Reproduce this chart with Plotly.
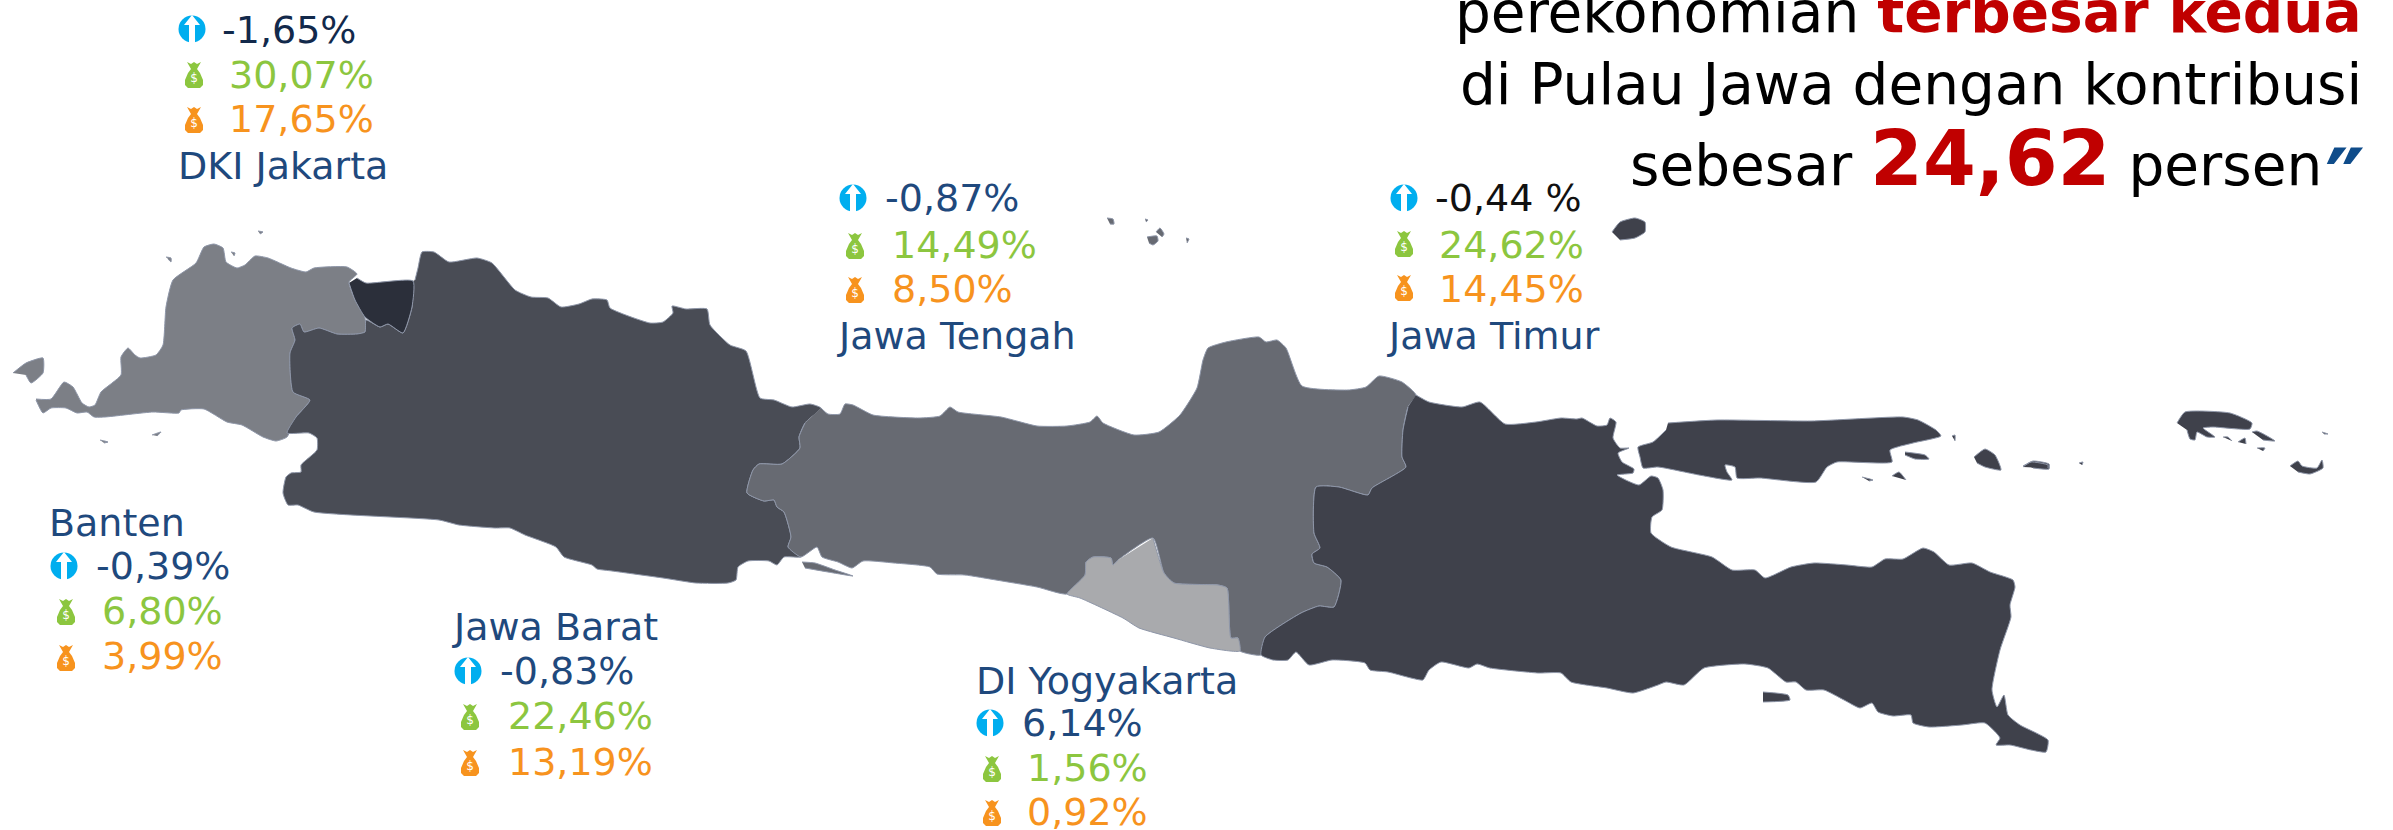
import plotly.graph_objects as go

# Outlines (image pixels); None separates islands
banten = [(36,399),(51,399),(64,382),(73,387),(82,403),(89,407),(95,405),(101,392),(121,375),(121,357),(128,348),(135,355),(140,358),(156,355),(163,345),(166,307),(173,280),(196,263),(204,247),(214,244),(223,248),(226,262),(237,268),(245,265),(255,256),(268,258),(291,268),(306,272),(314,268),(347,267),(357,274),(349,282),(355,300),(365,318),(365,332),(357,334),(337,334),(319,328),(304,332),(300,324),(292,328),(295,340),(290,353),(293,392),(310,400),(296,417),(287,437),(276,441),(263,437),(242,425),(227,422),(204,409),(181,410),(179,413),(153,412),(105,417),(94,417),(87,412),(77,413),(66,408),(51,408),(43,413),(36,400),None,
          (13,373),(26,363),(43,358),(43,373),(31,383),(26,375),None,
          (166,257),(171,258),(171,262),(168,259),None,(231,252),(235,253),(234,256),None,(258,231),(263,232),(260,234),None,
          (100,440),(108,442),(104,443),None,(152,435),(161,432),(157,436)]
dki = [(357,278),(366,283),(413,281),(412,307),(403,333),(388,324),(380,327),(365,317),(355,300),(349,283)]
jabar = [(415,280),(418,268),(422,252),(434,252),(449,262),(477,258),(492,263),(515,290),(531,297),(548,298),(561,307),(579,304),(592,299),(607,300),(610,308),(650,323),(663,322),(673,313),(672,306),(686,309),(707,309),(710,325),(730,345),(746,351),(760,398),(774,400),(792,407),(810,404),(821,408),(805,423),(799,437),(800,448),(782,464),(759,464),(753,470),(747,493),(764,501),(774,500),(777,507),(784,512),(791,537),(788,547),(801,557),(784,557),(777,565),(769,561),(748,561),(738,567),(736,580),(728,583),(696,583),(663,578),(612,571),(597,569),(592,565),(564,557),(556,547),(525,535),(510,528),(495,528),(459,525),(439,520),(314,512),(298,505),(288,505),(283,493),(286,477),(291,473),(301,472),(301,465),(317,450),(317,438),(309,433),(287,433),(296,417),(310,400),(293,392),(290,353),(295,340),(292,328),(300,324),(304,332),(319,328),(337,334),(357,334),(365,332),(366,320),(380,327),(388,324),(403,333),(412,307),(413,281)]
jateng = [(821,408),(828,414),(840,414),(845,404),(853,405),(873,415),(919,418),(940,416),(950,407),(958,412),(1001,417),(1037,426),(1067,426),(1090,422),(1097,416),(1103,423),(1134,435),(1159,432),(1180,415),(1197,388),(1203,360),(1208,348),(1226,342),(1259,337),(1266,342),(1277,340),(1286,348),(1302,386),(1348,390),(1366,387),(1379,376),(1402,382),(1416,395),(1408,407),(1403,430),(1402,457),(1406,467),(1372,488),(1368,495),(1339,487),(1316,487),(1314,533),(1320,548),(1312,554),(1314,563),(1327,567),(1341,580),(1334,607),(1319,606),(1301,613),(1265,637),(1261,655),(1240,651),(1238,638),(1231,638),(1227,588),(1218,585),(1174,583),(1164,573),(1153,538),(1118,560),(1113,565),(1111,558),(1093,557),(1086,562),(1085,575),(1067,594),(1037,587),(996,580),(965,575),(937,574),(930,567),(894,563),(863,561),(852,568),(838,562),(822,557),(817,547),(801,557),(788,547),(791,537),(784,512),(777,507),(774,500),(764,501),(747,493),(753,470),(759,464),(782,464),(800,448),(799,437),(805,423),None,
          (802,562),(815,563),(835,570),(853,576),(828,572),(805,568),None,
          (1107,218),(1113,219),(1114,224),(1110,224),None,(1145,219),(1148,220),(1146,222),None,
          (1147,237),(1157,236),(1158,241),(1153,245),(1149,243),None,(1156,232),(1160,228),(1164,234),(1162,237),None,(1186,238),(1189,239),(1187,243)]
diy = [(1153,538),(1164,573),(1174,583),(1218,585),(1227,588),(1231,638),(1238,638),(1240,651),(1210,648),(1174,638),(1139,628),(1123,618),(1080,598),(1067,594),(1085,575),(1086,562),(1093,557),(1111,558),(1113,565),(1118,560)]
jatim = [(1416,395),(1429,402),(1462,407),(1480,402),(1505,424),(1536,422),(1561,418),(1577,419),(1582,418),(1597,426),(1607,425),(1610,418),(1616,422),(1613,438),(1620,448),(1629,448),(1618,453),(1622,462),(1634,469),(1633,473),(1617,475),(1639,485),(1651,476),(1658,478),(1663,490),(1662,510),(1652,517),(1651,533),(1671,547),(1712,557),(1732,570),(1755,570),(1765,578),(1791,567),(1814,563),(1847,565),(1872,567),(1885,559),(1903,559),(1923,548),(1934,552),(1949,565),(1972,563),(1990,572),(2013,580),(2015,587),(2010,605),(2011,617),(2000,650),(1992,690),(1997,707),(2004,695),(2008,715),(2020,725),(2048,740),(2046,752),(2031,750),(2010,745),(1996,745),(2000,738),(1985,723),(1962,725),(1929,727),(1913,723),(1911,715),(1893,716),(1878,712),(1872,703),(1860,708),(1844,700),(1824,690),(1806,690),(1796,682),(1786,682),(1768,668),(1745,664),(1704,668),(1684,685),(1666,682),(1658,685),(1633,693),(1607,688),(1571,682),(1561,673),(1538,673),(1490,668),(1477,664),(1469,668),(1441,662),(1429,670),(1423,680),(1411,678),(1388,672),(1370,670),(1365,663),(1332,660),(1309,665),(1296,652),(1288,660),(1273,660),(1261,655),(1265,637),(1301,613),(1319,606),(1334,607),(1341,580),(1327,567),(1314,563),(1312,554),(1320,548),(1314,533),(1316,487),(1339,487),(1368,495),(1372,488),(1406,467),(1402,457),(1403,430),(1408,407),None,
         (1668,423),(1717,420),(1811,421),(1903,417),(1918,420),(1936,430),(1941,436),(1913,443),(1890,450),(1892,462),(1837,462),(1827,467),(1816,482),(1760,478),(1737,478),(1735,467),(1725,465),(1727,472),(1732,480),(1699,475),(1658,467),(1643,468),(1640,457),(1638,447),(1653,442),(1666,430),None,
         (1905,452),(1925,455),(1929,459),(1915,459),(1905,455),None,(1952,436),(1955,435),(1955,441),None,
         (1974,457),(1985,449),(1995,455),(2001,470),(1985,467),(1977,463),None,(2023,467),(2031,462),(2048,465),(2048,468),None,
         (1862,477),(1873,480),(1869,481),None,(1892,476),(1899,472),(1906,480),None,(1763,692),(1788,695),(1790,700),(1763,702),None,
         (2177,423),(2185,412),(2230,413),(2252,423),(2250,429),(2213,427),(2203,428),(2215,437),(2207,437),(2197,432),(2195,440),(2190,439),(2187,430),None,
         (2252,432),(2257,431),(2275,441),(2263,440),None,(2223,437),(2228,437),(2232,441),None,(2238,442),(2245,438),(2246,444),None,
         (2257,448),(2265,448),(2263,451),None,(2322,432),(2328,434),(2324,434),None,
         (2290,466),(2298,461),(2302,466),(2317,468),(2322,460),(2323,468),(2310,474),(2298,472),None,
         (2023,466),(2033,461),(2049,464),(2049,469),(2033,468),None,(2079,463),(2083,462),(2082,465),None,
         (1612,232),(1620,222),(1635,218),(1645,222),(1645,232),(1635,238),(1620,240)]

region_shapes = [banten, jabar, jateng, jatim, diy, dki]
region_colors = ["#7C7F86", "#494C55", "#676A72", "#3F414B", "#A9AAAD", "#2B2F3A"]

names = ["DKI Jakarta", "Jawa Tengah", "Jawa Timur", "Banten", "Jawa Barat", "DI Yogyakarta"]
growth = ["-1,65%", "-0,87%", "-0,44 %", "-0,39%", "-0,83%", "6,14%"]
share_green = ["30,07%", "14,49%", "24,62%", "6,80%", "22,46%", "1,56%"]
share_orange = ["17,65%", "8,50%", "14,45%", "3,99%", "13,19%", "0,92%"]
growth_colors = ["#12294B", "#1F497D", "#111111", "#1F497D", "#1F497D", "#1F497D"]

name_pos = [(177,166),(836,336),(1386,336),(48,523),(451,627),(975,681)]
growth_pos = [(221,30),(884,198),(1434,198),(95,566),(499,671),(1021,723)]
green_pos = [(228,75),(891,245),(1438,245),(101,611),(507,716),(1026,768)]
orange_pos = [(228,119),(891,289),(1438,289),(101,656),(507,762),(1026,812)]
arrow_icons = [(192,29),(853,198),(1404,198),(64,566),(468,671),(990,723)]
green_icons = [(194,75),(855,246),(1404,244),(66,612),(470,717),(992,769)]
orange_icons = [(194,120),(855,290),(1404,288),(66,658),(470,763),(992,813)]

# icon glyph outlines, relative to the icon centre
arrow_glyph = [(0,-14),(8,-4),(3,-4),(3,14),(-3,14),(-3,-4),(-8,-4)]
bag_glyph = [(-7,-13),(-3,-11),(0,-13),(3,-11),(7,-13),(3,-6),(6,-2),(9,5),(9,10),(6,13),(-6,13),(-9,10),(-9,5),(-6,-2),(-3,-6)]

NAVY, GREEN, ORANGE, BLUE, RED = "#1F497D", "#8CC63F", "#F7931E", "#00AEEF", "#C00000"
FONT = "DejaVu Sans"
header_lines = [
    'perekonomian <b><span style="color:%s">terbesar kedua</span></b>' % RED,
    'di Pulau Jawa dengan kontribusi',
    'sebesar <b><span style="color:%s;font-size:76px">24,62</span></b> persen' % RED,
]
header_right = [2363, 2363, 2323]
header_y = [12, 84, 158]
closing_quote = "\u2033"

def xs(p): return [q[0] if q else None for q in p]
def ys(p): return [q[1] if q else None for q in p]

fig = go.Figure()
for shape, col in zip(region_shapes, region_colors):
    fig.add_trace(go.Scatter(x=xs(shape), y=ys(shape), mode="lines", fill="toself",
                             fillcolor=col, line=dict(color="#8E96A8", width=1, shape="spline", smoothing=0.5),
                             hoverinfo="skip", showlegend=False))

def stamp(glyph, centres, color):
    gx, gy = [], []
    for cx, cy in centres:
        gx += [cx + g[0] for g in glyph] + [None]
        gy += [cy + g[1] for g in glyph] + [None]
    fig.add_trace(go.Scatter(x=gx, y=gy, mode="lines", fill="toself", fillcolor=color,
                             line=dict(width=0, color=color), hoverinfo="skip", showlegend=False))

fig.add_trace(go.Scatter(x=[p[0] for p in arrow_icons], y=[p[1] for p in arrow_icons], mode="markers",
                         marker=dict(symbol="circle", size=27, color=BLUE, line=dict(width=0)),
                         hoverinfo="skip", showlegend=False))
stamp(arrow_glyph, arrow_icons, "white")
for pts, col in ((green_icons, GREEN), (orange_icons, ORANGE)):
    stamp(bag_glyph, pts, col)
    fig.add_trace(go.Scatter(x=[p[0] for p in pts], y=[p[1]+4 for p in pts], mode="text", text=["$"]*len(pts),
                             textfont=dict(family=FONT, size=12, color="white"), hoverinfo="skip", showlegend=False))

annotations = []
def label(txt, pos, color, size=38, anchor="left"):
    annotations.append(dict(x=pos[0], y=pos[1], text=txt, xref="x", yref="y", showarrow=False,
                            xanchor=anchor, yanchor="middle", align=anchor, borderpad=0,
                            font=dict(family=FONT, size=size, color=color)))
for i in range(6):
    label(names[i], name_pos[i], NAVY)
    label(growth[i], growth_pos[i], growth_colors[i])
    label(share_green[i], green_pos[i], GREEN)
    label(share_orange[i], orange_pos[i], ORANGE)
for line, x, y in zip(header_lines, header_right, header_y):
    label(line, (x, y), "#000000", size=56.5, anchor="right")
label("<b>%s</b>" % closing_quote, (2366, 182), "#0F4C8A", size=90, anchor="right")

fig.update_layout(width=2393, height=830, margin=dict(l=0, r=0, t=0, b=0),
                  paper_bgcolor="white", plot_bgcolor="white", showlegend=False,
                  xaxis=dict(range=[0, 2393], visible=False, fixedrange=True),
                  yaxis=dict(range=[830, 0], visible=False, fixedrange=True),
                  annotations=annotations)
fig.write_html("out.html", config=dict(displayModeBar=False),
               post_script="document.body.style.margin='0';document.documentElement.style.overflow='hidden';")
